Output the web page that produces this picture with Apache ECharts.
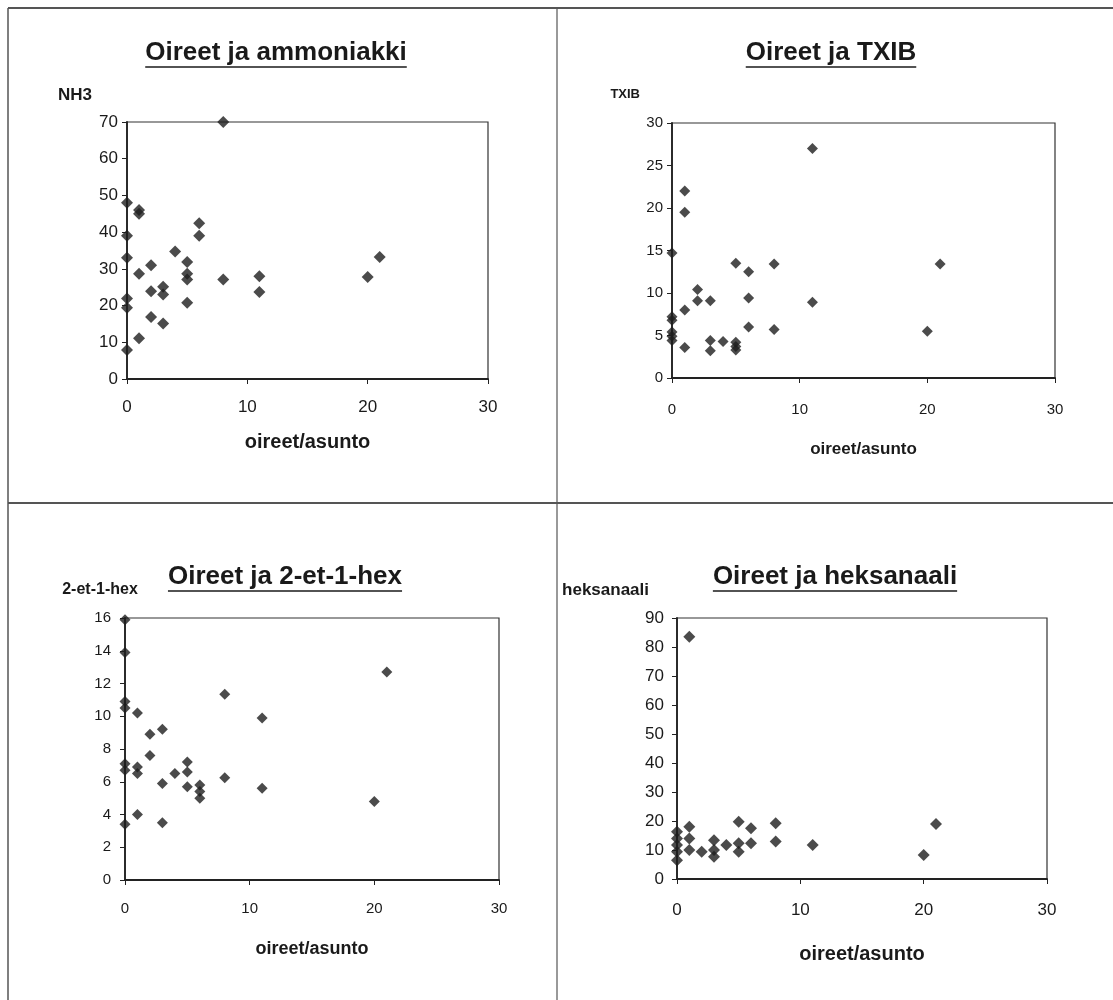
<!DOCTYPE html>
<html><head><meta charset="utf-8">
<script src="https://cdn.jsdelivr.net/npm/echarts@6/dist/echarts.min.js"></script>
<style>html,body{margin:0;padding:0;background:#fff}#c{width:1113px;height:1000px}</style>
</head><body><div id="c"></div>
<script>
// ---- data ----
var titles = ['Oireet ja ammoniakki', 'Oireet ja TXIB', 'Oireet ja 2-et-1-hex', 'Oireet ja heksanaali'];
var yNames = ['NH3', 'TXIB', '2-et-1-hex', 'heksanaali'];
var xName = 'oireet/asunto';
var xTicks = [0, 10, 20, 30];
var yMax = [70, 30, 16, 90];
var yStep = [10, 5, 2, 10];

var nh3 = [[8,70],[0,48],[1,46],[1,45],[0,39],[0,33],[1,28.7],[2,31],[4,34.7],[6,42.4],[6,39],[5,31.9],[5,28.7],[5,27.1],[5,20.8],[3,25.1],[3,23],[2,23.9],[2,16.9],[3,15.1],[0,21.9],[0,19.4],[1,11.1],[0,7.9],[8,27.1],[11,28],[11,23.7],[21,33.2],[20,27.8]];
var txib = [[11,27],[1,22],[1,19.5],[0,14.7],[5,13.5],[6,12.5],[8,13.4],[2,10.4],[2,9.1],[3,9.1],[6,9.4],[11,8.9],[1,8],[0,7.2],[0,6.8],[0,5.4],[0,4.9],[0,4.4],[6,6],[8,5.7],[1,3.6],[3,4.4],[3,3.2],[4,4.3],[5,4.2],[5,3.7],[5,3.3],[21,13.4],[20,5.5]];
var etHex = [[0,15.9],[0,13.9],[0,10.9],[0,10.5],[1,10.2],[2,8.9],[3,9.2],[2,7.6],[0,7.1],[0,6.7],[1,6.9],[1,6.5],[3,5.9],[4,6.5],[5,7.2],[5,6.6],[5,5.7],[6,5.8],[6,5.4],[6,5.0],[8,11.35],[8,6.25],[11,9.9],[11,5.6],[1,4.0],[0,3.4],[3,3.5],[21,12.7],[20,4.8]];
var heks = [[1,83.5],[0,16.3],[0,14],[0,11.7],[0,9.4],[0,6.5],[1,18],[1,14],[1,10],[2,9.4],[3,13.4],[3,10],[3,7.7],[4,11.7],[5,19.7],[5,12.3],[5,9.4],[6,17.5],[6,12.3],[8,19.2],[8,12.9],[11,11.7],[21,19],[20,8.3]];
var seriesData = [nh3, txib, etHex, heks];

// ---- layout / style ----
var FONT = '"Liberation Sans", Arial, sans-serif';
var INK = '#1a1a1a';
var grids = [
  {left:127, top:122, width:361, height:257},
  {left:672, top:123, width:383, height:255},
  {left:125, top:618, width:374, height:262},
  {left:677, top:618, width:370, height:261}
];
var tickFont = [17, 15, 15, 17];
var nameFont = [17, 13, 16, 17];
var nameAlign = ['right', 'right', 'center', 'right'];
var yNameShift = [35, 32, 50, 28];
var yNameGap = [27, 29, 28, 28];
var xNameFont = [20, 17, 18, 20];
var xNameGap = [53, 63, 60, 65];
var xLabelMargin = [20, 24, 21, 23];
var yLabelMargin = [9, 9, 14, 13];
var symSize = [12, 11, 11, 12];
var titlePos = [[276, 40], [831, 40], [285, 564], [835, 564]];
var TITLE_SIZE = 26;

var option = {
  backgroundColor: '#fff',
  animation: false,
  title: [], grid: [], xAxis: [], yAxis: [], series: [], graphic: []
};

var mctx = document.createElement('canvas').getContext('2d');
mctx.font = 'bold ' + TITLE_SIZE + 'px ' + FONT;

for (var i = 0; i < 4; i++) {
  option.title.push({
    text: titles[i], left: titlePos[i][0], top: titlePos[i][1], textAlign: 'center', padding: 0,
    textStyle: {fontFamily: FONT, fontSize: TITLE_SIZE, fontWeight: 'bold', color: INK}
  });
  var w = mctx.measureText(titles[i]).width;
  var uy = titlePos[i][1] + TITLE_SIZE + 1;
  option.graphic.push({
    type: 'line', silent: true,
    shape: {x1: titlePos[i][0] - w / 2, y1: uy, x2: titlePos[i][0] + w / 2, y2: uy},
    style: {stroke: INK, lineWidth: 1.6}
  });
  var g = grids[i];
  option.grid.push({left: g.left, top: g.top, width: g.width, height: g.height, show: true,
    containLabel: false, outerBoundsMode: 'none',
    borderColor: '#333', borderWidth: 1.2, backgroundColor: 'transparent'});
  option.xAxis.push({
    gridIndex: i, type: 'value', min: xTicks[0], max: xTicks[xTicks.length - 1], interval: xTicks[1] - xTicks[0],
    name: xName, nameLocation: 'middle', nameGap: xNameGap[i],
    nameTextStyle: {fontFamily: FONT, fontSize: xNameFont[i], fontWeight: 'bold', color: INK},
    axisLine: {show: true, onZero: false, lineStyle: {color: '#222', width: 1.8}},
    axisTick: {show: true, length: 5, lineStyle: {color: '#222', width: 1}},
    axisLabel: {fontFamily: FONT, fontSize: tickFont[i], color: INK, margin: xLabelMargin[i]},
    splitLine: {show: false}
  });
  option.yAxis.push({
    gridIndex: i, type: 'value', min: 0, max: yMax[i], interval: yStep[i],
    name: yNames[i], nameLocation: 'end', nameGap: yNameGap[i],
    nameTextStyle: {fontFamily: FONT, fontSize: nameFont[i], fontWeight: 'bold', color: INK,
      align: nameAlign[i], verticalAlign: 'middle', padding: [0, yNameShift[i], 0, 0]},
    axisLine: {show: true, onZero: false, lineStyle: {color: '#222', width: 1.8}},
    axisTick: {show: true, length: 5, lineStyle: {color: '#222', width: 1}},
    axisLabel: {fontFamily: FONT, fontSize: tickFont[i], color: INK, margin: yLabelMargin[i]},
    splitLine: {show: false}
  });
  option.series.push({
    type: 'scatter', xAxisIndex: i, yAxisIndex: i, data: seriesData[i],
    symbol: 'diamond', symbolSize: symSize[i],
    itemStyle: {color: '#1e1e1e'}
  });
}

// panel dividers (page frame)
var frame = [
  [8, 8, 1113, 8, 2], [8, 8, 8, 1000, 1.5],
  [557, 8, 557, 1000, 1.2], [8, 503, 1113, 503, 2]
];
frame.forEach(function (f) {
  option.graphic.push({type: 'line', silent: true, shape: {x1: f[0], y1: f[1], x2: f[2], y2: f[3]},
    style: {stroke: '#555', lineWidth: f[4]}});
});

var chart = echarts.init(document.getElementById('c'), null, {renderer: 'canvas'});
chart.setOption(option);
</script></body></html>
